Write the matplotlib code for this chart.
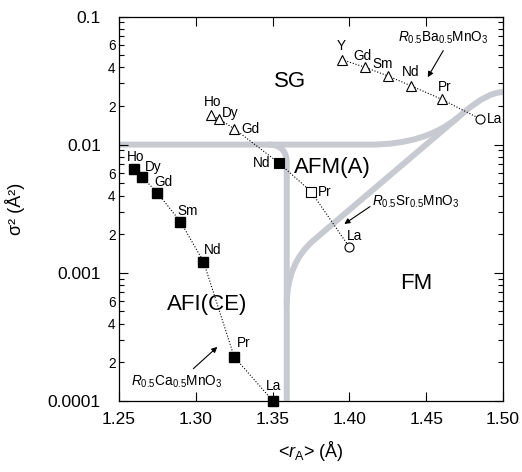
import matplotlib
matplotlib.use("Agg")
import matplotlib.pyplot as plt
from matplotlib.path import Path
from matplotlib.patches import PathPatch
from matplotlib.ticker import FixedLocator, FuncFormatter, NullFormatter
import numpy as np

plt.rcParams['font.family'] = ['Liberation Sans', 'DejaVu Sans']
plt.rcParams['mathtext.fontset'] = 'custom'
plt.rcParams['mathtext.rm'] = 'Liberation Sans'
plt.rcParams['mathtext.it'] = 'Liberation Sans:italic'

# R0.5Ca0.5MnO3
ca_names = ['Ho', 'Dy', 'Gd', 'Sm', 'Nd', 'Pr', 'La']
ca_r = [1.260, 1.265, 1.275, 1.290, 1.305, 1.325, 1.350]
ca_s2 = [0.0064, 0.0056, 0.0042, 0.0025, 0.00122, 0.00022, 0.0001]

# R0.5Sr0.5MnO3
sr_names = ['Ho', 'Dy', 'Gd', 'Nd', 'Pr', 'La']
sr_r = [1.310, 1.315, 1.325, 1.354, 1.375, 1.400]
sr_s2 = [0.0171, 0.0159, 0.0133, 0.0072, 0.0043, 0.00158]
sr_marker = ['^', '^', '^', 's', 's', 'o']
sr_filled = [False, False, False, True, False, False]

# R0.5Ba0.5MnO3
ba_names = ['Y', 'Gd', 'Sm', 'Nd', 'Pr', 'La']
ba_r = [1.395, 1.410, 1.425, 1.440, 1.460, 1.485]
ba_s2 = [0.0461, 0.0402, 0.0344, 0.0288, 0.0226, 0.0159]
ba_marker = ['^', '^', '^', '^', '^', 'o']

# phase boundaries (vertices, quadratic bezier control points included)
sg_line = [(1.250, 0.01), (1.4134, 0.01), (1.4492, 0.01), (1.4701, 0.0161)]
sg_codes = [Path.MOVETO, Path.LINETO, Path.CURVE3, Path.CURVE3]
afi_line = [(1.347, 0.01), (1.3592, 0.01), (1.3592, 0.00717), (1.3592, 0.0001)]
afi_codes = [Path.MOVETO, Path.CURVE3, Path.CURVE3, Path.LINETO]
fm_line = [(1.3592, 0.000557), (1.3592, 0.001186), (1.3768, 0.001795),
           (1.4753, 0.01815), (1.4902, 0.0257), (1.50, 0.0257)]
fm_codes = [Path.MOVETO, Path.CURVE3, Path.CURVE3, Path.LINETO, Path.CURVE3, Path.CURVE3]

phase_labels = ['SG', 'AFM(A)', 'FM', 'AFI(CE)']
phase_pos = [(1.3613, 0.031), (1.389, 0.00665), (1.4438, 0.00082), (1.3071, 0.00056)]

compounds = [r'$\mathit{R}_{0.5}\mathrm{Ba}_{0.5}\mathrm{MnO}_3$',
             r'$\mathit{R}_{0.5}\mathrm{Sr}_{0.5}\mathrm{MnO}_3$',
             r'$\mathit{R}_{0.5}\mathrm{Ca}_{0.5}\mathrm{MnO}_3$']
compound_pos = [(1.4609, 0.0683), (1.443, 0.00357), (1.2876, 0.00014)]
arrow_tail = [(1.4611, 0.0542), (1.4134, 0.00328), (1.2984, 0.000178)]
arrow_tip = [(1.451, 0.0336), (1.3967, 0.0024), (1.314, 0.000263)]

fig = plt.figure(figsize=(5.22, 4.72), dpi=100)
ax = fig.add_axes([0.228, 0.151, 0.7356, 0.814])
ax.set_yscale('log')
ax.set_xlim(1.25, 1.50)
ax.set_ylim(0.0001, 0.1)

gray = '#c7cad0'
for verts, codes in [(sg_line, sg_codes), (afi_line, afi_codes), (fm_line, fm_codes)]:
    ax.add_patch(PathPatch(Path(verts, codes), fill=False, edgecolor=gray,
                           lw=4.3, capstyle='butt', joinstyle='round', zorder=1))

dot = dict(color='k', lw=0.8, ls=(0, (1, 1.6)), zorder=2)
ax.plot(ca_r, ca_s2, **dot)
ax.plot(sr_r, sr_s2, **dot)
ax.plot(ba_r, ba_s2, **dot)

ax.plot(ca_r, ca_s2, 's', color='k', ms=7, zorder=4, clip_on=False)
for x, y, m, f in zip(sr_r, sr_s2, sr_marker, sr_filled):
    ax.plot(x, y, m, mfc='k' if f else 'white', mec='k', mew=0.8,
            ms=7 if m == 's' and f else 6.5, zorder=4)
for x, y, m in zip(ba_r, ba_s2, ba_marker):
    ax.plot(x, y, m, mfc='white', mec='k', mew=0.8, ms=6.5, zorder=4)

# element label offsets in points
ca_off = [(0.7, 9), (8.1, 7.2), (4.3, 7.6), (5.2, 7.9), (6.3, 8.4), (6.7, 10.3), (1, 10.8)]
sr_off = [(1.2, 9.4), (8.1, 4.5), (11.7, 0), (-12.5, 0), (10, 0), (3.4, 8.4)]
ba_off = [(0, 10), (-1.7, 8.4), (-3.8, 8.4), (0, 9.6), (1.9, 9.1), (10.5, 0)]
fs_el = 9.8
for names, xs, ys, offs in [(ca_names, ca_r, ca_s2, ca_off),
                            (sr_names, sr_r, sr_s2, sr_off),
                            (ba_names, ba_r, ba_s2, ba_off)]:
    for n, x, y, o in zip(names, xs, ys, offs):
        ax.annotate(n, (x, y), xytext=o, textcoords='offset points',
                    ha='center', va='center', fontsize=fs_el, zorder=5)

for t, p in zip(phase_labels, phase_pos):
    ax.text(p[0], p[1], t, fontsize=16, ha='center', va='center', zorder=5)

for t, p, a, b in zip(compounds, compound_pos, arrow_tail, arrow_tip):
    ax.text(p[0], p[1], t, fontsize=9.8, ha='center', va='center', zorder=5)
    ax.annotate('', xy=b, xytext=a,
                arrowprops=dict(arrowstyle='-|>', color='k', lw=0.8,
                                mutation_scale=8, shrinkA=0, shrinkB=0))

# ticks
ax.set_xticks([1.25, 1.30, 1.35, 1.40, 1.45, 1.50])
ax.set_xticklabels(['1.25', '1.30', '1.35', '1.40', '1.45', '1.50'])
ax.set_yticks([0.0001, 0.001, 0.01, 0.1])
ax.set_yticklabels(['0.0001', '0.001', '0.01', '0.1'])
minors = [m * 10.0 ** e for e in (-4, -3, -2) for m in range(2, 10)]
ax.yaxis.set_minor_locator(FixedLocator(minors))


def minor_label(v, pos):
    m = int(round(v / 10 ** np.floor(np.log10(v) + 1e-9)))
    return '%d' % m if m in (2, 4, 6) else ''


ax.yaxis.set_minor_formatter(FuncFormatter(minor_label))
ax.xaxis.set_minor_formatter(NullFormatter())
ax.tick_params(which='both', direction='in', top=True, right=True, width=0.8)
ax.tick_params(axis='x', which='major', length=6.5, labelsize=12.5, pad=8)
ax.tick_params(axis='y', which='major', length=6.5, labelsize=12.5, pad=13)
ax.tick_params(axis='y', which='minor', length=3.8, labelsize=9.8, pad=2.5)
ax.tick_params(axis='x', which='minor', bottom=False, top=False)
for s in ax.spines.values():
    s.set_linewidth(0.9)

ax.set_xlabel(r'<$\mathit{r}_\mathrm{A}$> (Å)', fontsize=13, labelpad=9)
ax.set_ylabel('σ² (Å²)', fontsize=13)
ax.yaxis.set_label_coords(-0.245, 0.5)

fig.savefig('out.png', dpi=100)
plt.close(fig)
